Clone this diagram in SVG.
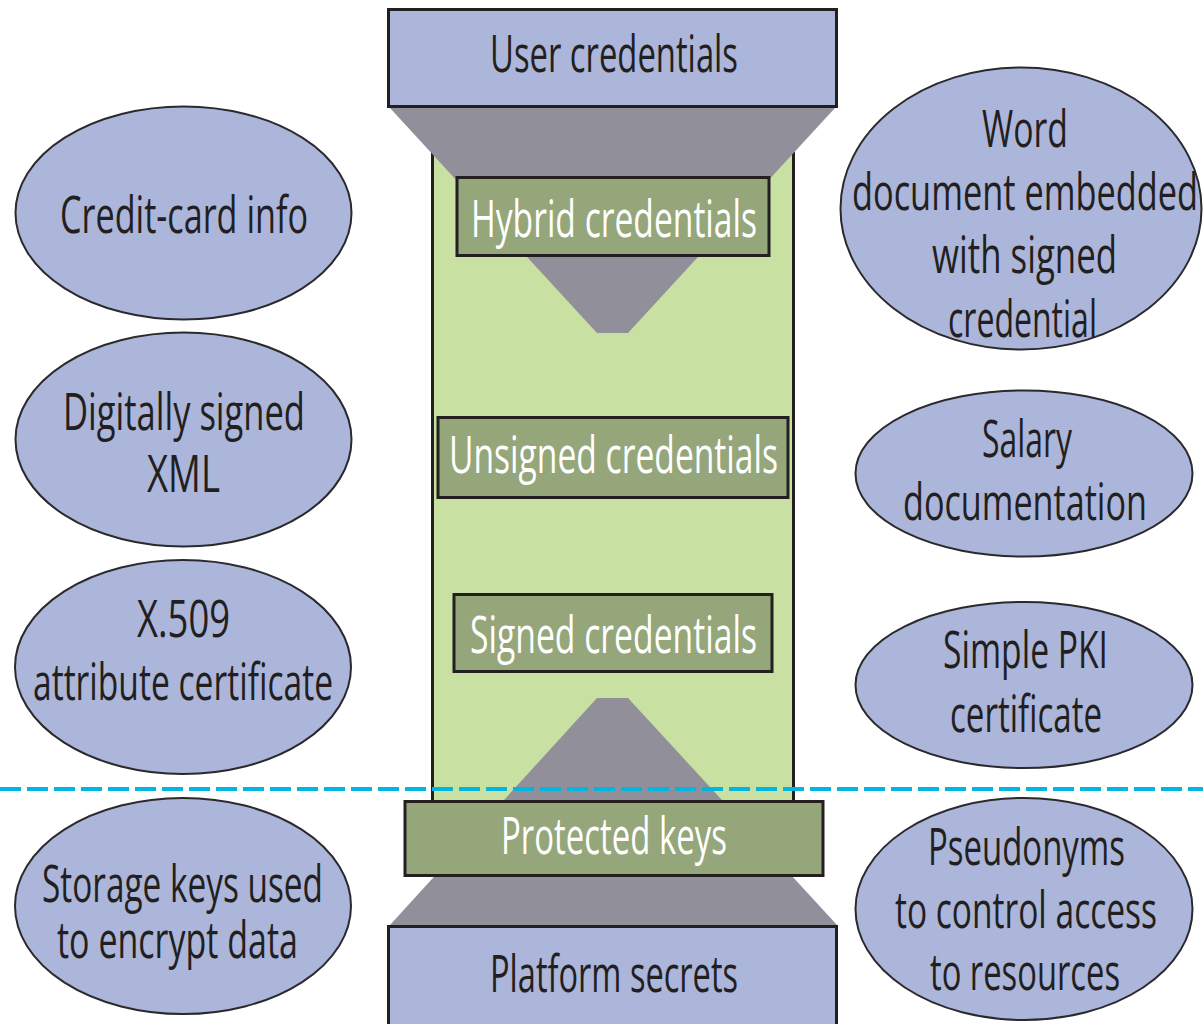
<svg xmlns="http://www.w3.org/2000/svg" width="1203" height="1024" viewBox="0 0 1203 1024">
  <style>
    .tier { fill: #acb6da; stroke: #231f20; stroke-width: 3; }
    .layer { fill: #94a67a; stroke: #231f20; stroke-width: 3; }
    .bubble { fill: #acb6da; stroke: #2a2a2e; stroke-width: 2; }
    .funnel { fill: #918f9a; }
    .dark { font-family: "Open Sans", "Noto Sans", sans-serif; font-size: 52px; fill: #231f20; text-anchor: middle; }
    .light { font-family: "Open Sans", "Noto Sans", sans-serif; font-size: 52px; fill: #ffffff; text-anchor: middle; }
    .divider { stroke: #00b5e0; stroke-width: 4; stroke-dasharray: 21 6; fill: none; }
  </style>
  <rect width="1203" height="1024" fill="#ffffff"/>

  <!-- credential column -->
  <g id="column">
    <rect x="431" y="150" width="364" height="651" fill="#c8e0a2"/>
    <line x1="432.5" y1="152" x2="432.5" y2="801" stroke="#231f20" stroke-width="3"/>
    <line x1="793.5" y1="152" x2="793.5" y2="801" stroke="#231f20" stroke-width="3"/>
  </g>

  <!-- funnels linking the tiers -->
  <g id="connectors">
    <polygon class="funnel" points="390,108 835,108 628,333 597,333"/>
    <polygon class="funnel" points="597,698 628,698 837,925 390,925"/>
  </g>

  <g id="user-credentials">
    <rect class="tier" x="388.5" y="9.5" width="448" height="97"/>
    <text class="dark" x="614" y="72" textLength="248" lengthAdjust="spacingAndGlyphs">User credentials</text>
  </g>

  <g id="hybrid-credentials">
    <rect class="layer" x="457" y="177.5" width="312" height="78"/>
    <text class="light" x="614" y="237" textLength="286" lengthAdjust="spacingAndGlyphs">Hybrid credentials</text>
  </g>

  <g id="unsigned-credentials">
    <rect class="layer" x="438" y="417.5" width="350" height="80"/>
    <text class="light" x="613.5" y="473" textLength="329" lengthAdjust="spacingAndGlyphs">Unsigned credentials</text>
  </g>

  <g id="signed-credentials">
    <rect class="layer" x="454" y="594.5" width="318" height="77"/>
    <text class="light" x="613.5" y="653" textLength="287" lengthAdjust="spacingAndGlyphs">Signed credentials</text>
  </g>

  <g id="protected-keys">
    <rect class="layer" x="405" y="801.5" width="418" height="74"/>
    <text class="light" x="614" y="854" textLength="226" lengthAdjust="spacingAndGlyphs">Protected keys</text>
  </g>

  <g id="platform-secrets">
    <rect class="tier" x="388.5" y="926.5" width="448" height="110"/>
    <text class="dark" x="614" y="992" textLength="248" lengthAdjust="spacingAndGlyphs">Platform secrets</text>
  </g>

  <!-- examples, left side -->
  <g id="credit-card-info">
    <ellipse class="bubble" cx="183.5" cy="213" rx="168" ry="106.5"/>
    <text class="dark" x="184" y="233" textLength="248" lengthAdjust="spacingAndGlyphs">Credit-card info</text>
  </g>

  <g id="digitally-signed-xml">
    <ellipse class="bubble" cx="183.5" cy="439.5" rx="168" ry="107"/>
    <text class="dark" x="184" y="430" textLength="242" lengthAdjust="spacingAndGlyphs">Digitally signed</text>
    <text class="dark" x="183.5" y="492" textLength="73" lengthAdjust="spacingAndGlyphs">XML</text>
  </g>

  <g id="x509-attribute-certificate">
    <ellipse class="bubble" cx="183" cy="667" rx="168" ry="107"/>
    <text class="dark" x="183.5" y="637" textLength="93" lengthAdjust="spacingAndGlyphs">X.509</text>
    <text class="dark" x="183" y="700" textLength="300" lengthAdjust="spacingAndGlyphs">attribute certificate</text>
  </g>

  <g id="storage-keys">
    <ellipse class="bubble" cx="183" cy="906" rx="168" ry="108"/>
    <text class="dark" x="182.5" y="902" textLength="281" lengthAdjust="spacingAndGlyphs">Storage keys used</text>
    <text class="dark" x="177.5" y="958" textLength="241" lengthAdjust="spacingAndGlyphs">to encrypt data</text>
  </g>

  <!-- examples, right side -->
  <g id="word-document">
    <ellipse class="bubble" cx="1021" cy="208.5" rx="180.5" ry="141"/>
    <text class="dark" x="1025" y="147" textLength="86" lengthAdjust="spacingAndGlyphs">Word</text>
    <text class="dark" x="1025" y="210" textLength="346" lengthAdjust="spacingAndGlyphs">document embedded</text>
    <text class="dark" x="1024.5" y="273" textLength="185" lengthAdjust="spacingAndGlyphs">with signed</text>
    <text class="dark" x="1022.5" y="337" textLength="149" lengthAdjust="spacingAndGlyphs">credential</text>
  </g>

  <g id="salary-documentation">
    <ellipse class="bubble" cx="1024" cy="473.5" rx="168.5" ry="83"/>
    <text class="dark" x="1027" y="457" textLength="90" lengthAdjust="spacingAndGlyphs">Salary</text>
    <text class="dark" x="1025" y="520" textLength="244" lengthAdjust="spacingAndGlyphs">documentation</text>
  </g>

  <g id="simple-pki-certificate">
    <ellipse class="bubble" cx="1024" cy="685" rx="168.5" ry="83"/>
    <text class="dark" x="1025.5" y="668" textLength="165" lengthAdjust="spacingAndGlyphs">Simple PKI</text>
    <text class="dark" x="1026" y="732" textLength="152" lengthAdjust="spacingAndGlyphs">certificate</text>
  </g>

  <g id="pseudonyms">
    <ellipse class="bubble" cx="1024" cy="909" rx="168.5" ry="111"/>
    <text class="dark" x="1026.5" y="865" textLength="197" lengthAdjust="spacingAndGlyphs">Pseudonyms</text>
    <text class="dark" x="1026" y="928" textLength="262" lengthAdjust="spacingAndGlyphs">to control access</text>
    <text class="dark" x="1025" y="990" textLength="190" lengthAdjust="spacingAndGlyphs">to resources</text>
  </g>

  <!-- platform boundary -->
  <g id="boundary">
    <line class="divider" x1="0" y1="789" x2="1203" y2="789"/>
  </g>
</svg>
